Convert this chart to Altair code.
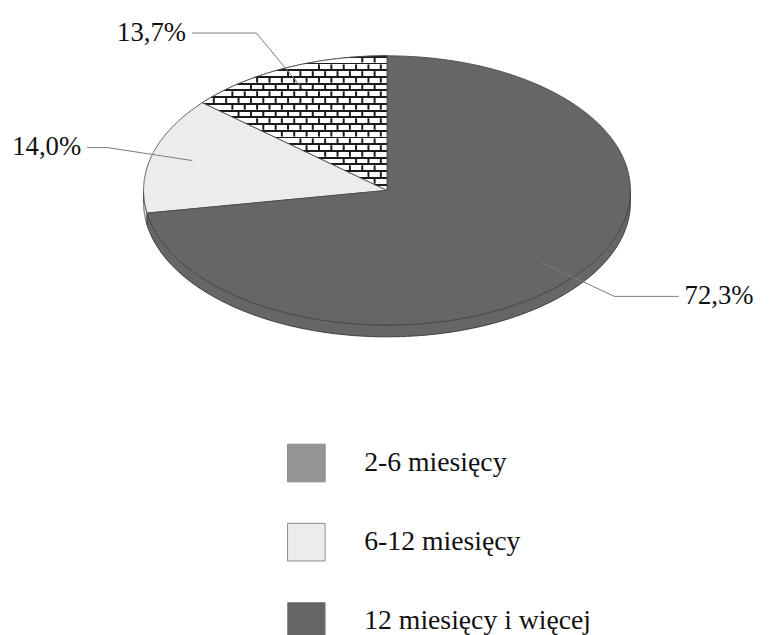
import altair as alt
import pandas as pd

# ---------------- data ----------------
categories = ["2-6 miesięcy", "6-12 miesięcy", "12 miesięcy i więcej"]
values = [13.7, 14.0, 72.3]
labels = ["13,7%", "14,0%", "72,3%"]
pie_order = [3, 2, 1]          # clockwise order of slices starting at 12 o'clock
colors = ["#959595", "#ececec", "#666666"]

df = pd.DataFrame({"category": categories, "value": values,
                   "label": labels, "ord": pie_order})

# ---------------- layout (pixels) ----------------
W, H = 766, 627          # plot area (page minus 8px margin)
CX, CY = 383, 181        # pie centre inside plot area
A, B = 246, 136          # ellipse semi-axes
DEPTH = 12               # rim thickness
N = 120                  # arc resolution
R_IN = 0.83              # leader line start (fraction of radius)
OUT_PX = 46              # leader elbow distance outside the rim
HOR_MAX = 65             # longest horizontal leader
TEXT_W = 72              # room kept for a label
GAP_PX = 6               # gap between leader and text
ROWS = 20                # brick rows in the textured slice
BRICK_PX = 12.5          # brick width
MORTAR = 0.28            # mortar share of a brick row

xs = alt.Scale(domain=[-CX / A, (W - CX) / A], nice=False, zero=False)
ys = alt.Scale(domain=[-(H - CY) / B, CY / B], nice=False, zero=False)

color_scale = alt.Scale(domain=categories, range=colors)
legend = alt.Legend(
    title=None, orient="none", legendX=282, legendY=437, direction="vertical",
    symbolType="square", symbolSize=1444, symbolStrokeColor="#8a8a8a",
    symbolStrokeWidth=1, labelFont="Liberation Serif", labelFontSize=28,
    labelColor="#111111", labelOffset=39, rowPadding=37, padding=0,
    labelLimit=0,
)

base = alt.Chart(df).transform_joinaggregate(
    total="sum(value)"
).transform_window(
    cum="sum(value)", sort=[alt.SortField("ord")], frame=[None, 0]
).transform_calculate(
    t0="2*PI*(datum.cum - datum.value)/datum.total"
).transform_calculate(
    t1="2*PI*datum.cum/datum.total"
).transform_calculate(
    tm="(datum.t0 + datum.t1)/2"
)

X = lambda f: alt.X(f, scale=xs, axis=None)
Y = lambda f: alt.Y(f, scale=ys, axis=None, stack=None)

# ---------------- rim (side of the 3D pie) ----------------
rim = base.transform_calculate(
    r0="max(datum.t0, PI/2)", r1="min(datum.t1, 3*PI/2)"
).transform_filter("datum.r1 > datum.r0").transform_calculate(
    steps=f"sequence(0, {N + 1})"
).transform_flatten(["steps"]).transform_calculate(
    th=f"datum.r0 + (datum.r1 - datum.r0) * datum.steps / {N}"
).transform_calculate(
    px="sin(datum.th)", py="cos(datum.th)",
    py2=f"cos(datum.th) - {DEPTH / B}"
).mark_area(stroke="#333333", strokeWidth=0.9).encode(
    x=X("px:Q"), y=Y("py:Q"), y2="py2:Q",
    color=alt.Color("category:N", scale=color_scale, legend=legend),
    detail="category:N",
)

# ---------------- top face slices ----------------
def slice_geom(ch):
    return ch.transform_calculate(
        steps=f"sequence(0, {N + 3})"
    ).transform_flatten(["steps"]).transform_calculate(
        th=f"datum.t0 + (datum.t1 - datum.t0) * clamp(datum.steps - 1, 0, {N}) / {N}"
    ).transform_calculate(
        inside=f"datum.steps > 0 && datum.steps < {N + 2}"
    ).transform_calculate(
        px="datum.inside ? sin(datum.th) : 0",
        py="datum.inside ? cos(datum.th) : 0",
    )

slices = slice_geom(base).mark_line(
    filled=True, stroke="#4a4a4a", strokeWidth=0.9, strokeJoin="round"
).encode(
    x=X("px:Q"), y=Y("py:Q"), order="steps:Q",
    color=alt.Color("category:N", scale=color_scale, legend=legend),
)

# brick texture for the first category: mortar rows as a striped fill ...
stops = []
for i in range(ROWS):
    stops += [
        {"offset": i / ROWS, "color": "#1a1a1a"},
        {"offset": (i + MORTAR) / ROWS, "color": "#1a1a1a"},
        {"offset": (i + MORTAR) / ROWS, "color": "#ffffff"},
        {"offset": (i + 1) / ROWS, "color": "#ffffff"},
    ]
brick_base = base.transform_filter(alt.datum.category == categories[0])
brick = slice_geom(brick_base).mark_line(
    filled=True, stroke="#4a4a4a", strokeWidth=0.9,
    fill=alt.Gradient(gradient="linear", stops=stops, x1=0, y1=0, x2=0, y2=1),
).encode(
    x=X("px:Q"), y=Y("py:Q"), order="steps:Q", detail="category:N",
)

# ... and the staggered vertical joints, kept inside the slice
bw = BRICK_PX / A
nj = int(A / BRICK_PX) + 3
joints = brick_base.transform_calculate(
    irow=f"sequence(0, {ROWS})"
).transform_flatten(["irow"]).transform_calculate(
    jcol=f"sequence({-nj}, {nj})"
).transform_flatten(["jcol"]).transform_calculate(
    jx=f"(datum.jcol + 0.5*(datum.irow % 2)) * {bw}",
    jy1=f"1 - (datum.irow + {MORTAR}) / {ROWS}",
    jy2=f"1 - (datum.irow + 1) / {ROWS}",
).transform_calculate(
    a1="(atan2(datum.jx, datum.jy1) + 2*PI) % (2*PI)",
    a2="(atan2(datum.jx, datum.jy2) + 2*PI) % (2*PI)",
).transform_filter(
    "datum.jx*datum.jx + datum.jy1*datum.jy1 < 0.985 && "
    "datum.jx*datum.jx + datum.jy2*datum.jy2 < 0.985 && "
    "datum.a1 > datum.t0 + 0.012 && datum.a2 > datum.t0 + 0.012 && "
    "datum.a1 < datum.t1 - 0.003 && datum.a2 < datum.t1 - 0.003 && datum.jx < -0.004"
).mark_rule(color="#1a1a1a", strokeWidth=2).encode(
    x=X("jx:Q"), y=Y("jy1:Q"), y2="jy2:Q",
)

# ---------------- leader lines and labels ----------------
lead = base.transform_calculate(
    s="sin(datum.tm)", c="cos(datum.tm)"
).transform_calculate(
    L=f"sqrt(pow({A}*datum.s, 2) + pow({B}*datum.c, 2))",
    side="datum.s < 0 ? -1 : 1",
).transform_calculate(
    ex=f"datum.s + {OUT_PX}*datum.s/datum.L",
    ey=f"datum.c + {OUT_PX}*datum.c/datum.L",
).transform_calculate(
    room=f"(datum.side < 0 ? {CX} + datum.ex*{A} : {W - CX} - datum.ex*{A}) - {TEXT_W + GAP_PX + 2}"
).transform_calculate(
    hor=f"clamp(datum.room, 0, {HOR_MAX})"
).transform_calculate(
    hx=f"datum.ex + datum.side*datum.hor/{A}",
    tx=f"datum.ex + datum.side*(datum.hor + {GAP_PX})/{A}",
)

leaders = lead.transform_calculate(
    steps="sequence(0, 3)"
).transform_flatten(["steps"]).transform_calculate(
    lx=f"datum.steps == 0 ? {R_IN}*datum.s : (datum.steps == 1 ? datum.ex : datum.hx)",
    ly=f"datum.steps == 0 ? {R_IN}*datum.c : datum.ey",
).mark_line(color="#7a7a7a", strokeWidth=1).encode(
    x=X("lx:Q"), y=Y("ly:Q"), order="steps:Q", detail="category:N",
)

txt_kw = dict(font="Liberation Serif", fontSize=27, color="#111111", baseline="middle")
text_left = lead.transform_filter("datum.side < 0").mark_text(align="right", **txt_kw).encode(
    x=X("tx:Q"), y=Y("ey:Q"), text="label:N")
text_right = lead.transform_filter("datum.side > 0").mark_text(align="left", **txt_kw).encode(
    x=X("tx:Q"), y=Y("ey:Q"), text="label:N")

chart = alt.layer(rim, slices, brick, joints, leaders, text_left, text_right).properties(
    width=W, height=H, padding=0, autosize="none", background="white"
).configure_view(stroke=None)

chart.save("out.html", embed_options={"renderer": "svg", "actions": False})
